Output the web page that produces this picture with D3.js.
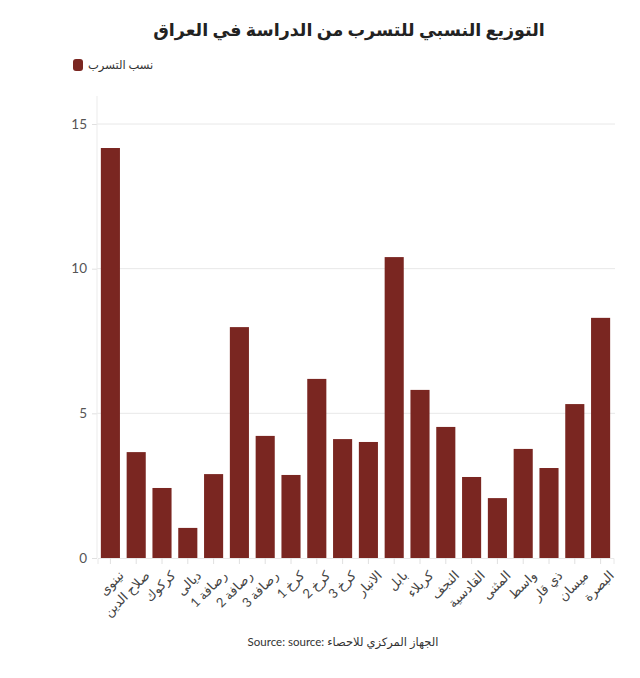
<!DOCTYPE html>
<html><head><meta charset="utf-8">
<script src="https://cdn.jsdelivr.net/npm/d3@7"></script>
<style>body{margin:0;background:#fff}svg{display:block}</style>
</head><body>
<script>
const categories = ["نينوى","صلاح الدين","كركوك","ديالى","رصافة 1","رصافة 2","رصافة 3","كرخ 1","كرخ 2","كرخ 3","الانبار","بابل","كربلاء","النجف","القادسية","المثنى","واسط","ذي قار","ميسان","البصرة"];
const values = [14.17,3.66,2.42,1.04,2.90,7.98,4.22,2.87,6.19,4.11,4.01,10.40,5.81,4.53,2.80,2.07,3.77,3.11,5.32,8.30];
const yTicks = [0,5,10,15];
const seriesName = "نسب التسرب";
const title = "التوزيع النسبي للتسرب من الدراسة في العراق";
const source = "Source: source: الجهاز المركزي للاحصاء";

const W = 640, H = 678;
const svg = d3.select("body").append("svg").attr("width", W).attr("height", H);
const x = d3.scaleBand().domain(categories).range([97.5, 613.5]).paddingInner(0.26).paddingOuter(0.13);
const y = d3.scaleLinear().domain([0, 15]).range([558, 124]);
const color = "#7a2621";
const font = "Lato,'Noto Sans','DejaVu Sans',sans-serif";

svg.append("text").attr("x", 349).attr("y", 36).attr("text-anchor", "middle")
  .attr("font-family", font).attr("font-weight", "bold").attr("font-size", 17.5).attr("fill", "#222").text(title);

// legend
svg.append("rect").attr("x", 73).attr("y", 59).attr("width", 10).attr("height", 12).attr("rx", 3).attr("fill", color);
svg.append("text").attr("x", 88).attr("y", 69).attr("font-family", font).attr("font-size", 11.5).attr("fill", "#333").text(seriesName);

// gridlines
svg.append("g").selectAll("line").data(yTicks.filter(d => d > 0)).join("line")
  .attr("x1", 97).attr("x2", 615).attr("y1", d => y(d)).attr("y2", d => y(d))
  .attr("stroke", "#e8e8e8").attr("stroke-width", 1);

// y axis
const ya = svg.append("g").attr("transform", "translate(97,0)")
  .call(d3.axisLeft(y).tickValues(yTicks).tickSize(5).tickPadding(5));
ya.select(".domain").remove();
ya.selectAll(".tick line").attr("stroke", "#e0e0e0");
ya.selectAll("text").attr("font-family", font).attr("font-size", 13.5).attr("fill", "#555");
svg.append("line").attr("x1", 97).attr("x2", 97).attr("y1", 96).attr("y2", 558).attr("stroke", "#ebebeb");

// bars
svg.append("g").selectAll("rect").data(values).join("rect")
  .attr("x", (d, i) => x(categories[i])).attr("width", x.bandwidth())
  .attr("y", d => y(d)).attr("height", d => y(0) - y(d))
  .attr("fill", color);

// x axis
const xa = svg.append("g").attr("transform", "translate(0,558)")
  .call(d3.axisBottom(x).tickSize(6).tickPadding(4));
xa.select(".domain").attr("stroke", "#e8e8e8");
xa.selectAll(".tick line").attr("stroke", "#e0e0e0");
xa.selectAll("text").attr("font-family", font).attr("font-size", 13).attr("fill", "#444")
  .attr("text-anchor", "end").attr("dy", "0.35em")
  .attr("transform", "translate(4,8) rotate(-45)");

svg.append("text").attr("x", 343).attr("y", 646).attr("text-anchor", "middle")
  .attr("font-family", font).attr("font-size", 11.5).attr("fill", "#333").text(source);
</script>
</body></html>
